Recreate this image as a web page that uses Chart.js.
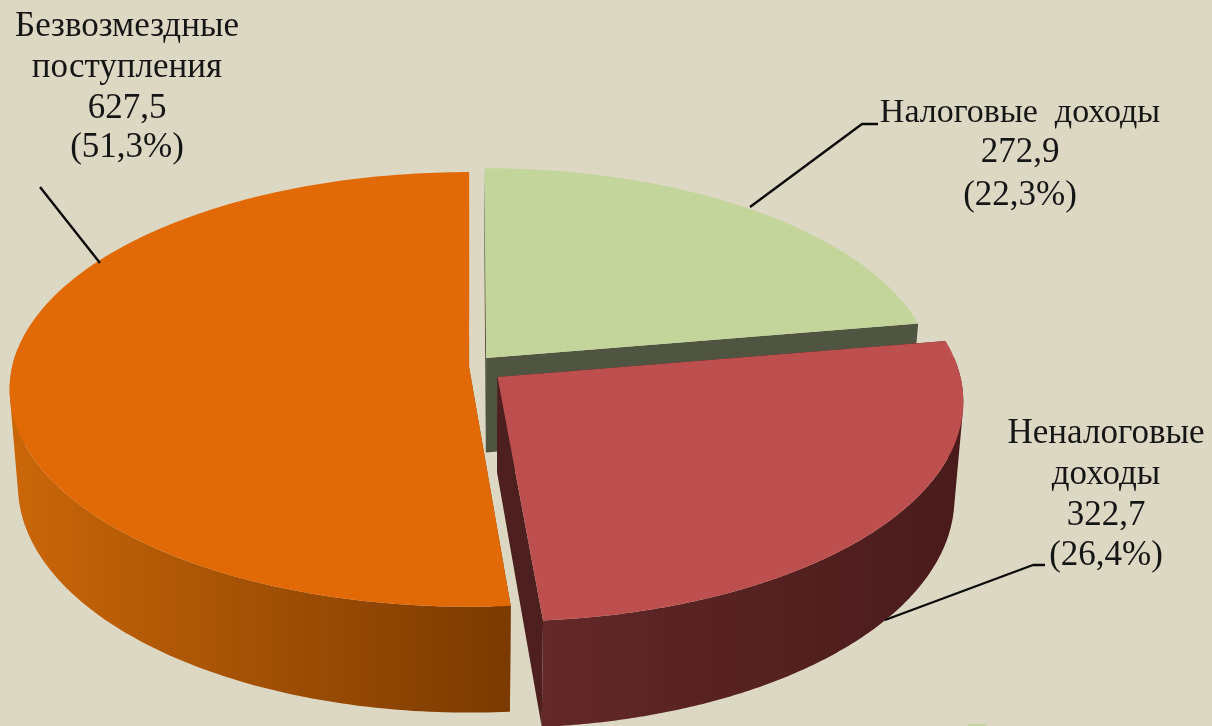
<!DOCTYPE html>
<html lang="ru"><head><meta charset="utf-8">
<style>html,body{margin:0;padding:0;background:#ddd8c3}canvas{display:block}</style>
<script src="https://cdn.jsdelivr.net/npm/chart.js@4"></script></head>
<body><canvas id="c" width="1212" height="726"></canvas>
<script>
const categories = ['Налоговые доходы', 'Неналоговые доходы', 'Безвозмездные поступления'];
const values = [272.9, 322.7, 627.5];
const percents = ['22,3%', '26,4%', '51,3%'];
const valueLabels = ['272,9', '322,7', '627,5'];

const topColors = ['#c3d59b', '#be4f4f', '#e26a06'];
const wallColors = ['#4f5540', '#4e1f1f', '#7a3a00'];
const rimStops = [['#5c6347', '#4f5540'], ['#632828', '#4a1b1b'], ['#c96609', '#7a3a00']];
const explode = [0.055, 0.076, 0.002];
const sliceScale = [0.98, 1.008, 1];

const P = {cx: 470, cy: 367, rx: 457, ry: 215, p: 0.103, depth: 95, shrink: 0.982};
const proj = (u, v, down) => {
  const w = 1 - P.p * v;
  return [P.cx + P.rx * u * (down ? P.shrink : 1) / w, P.cy + (P.ry * v + (down ? P.depth : 0)) / w];
};
const pie3d = {
  id: 'pie3d',
  beforeDatasetsDraw(chart) {
    const ctx = chart.ctx, arcs = chart.getDatasetMeta(0).data;
    [0, 2, 1].forEach(i => {
      const a = arcs[i], R = a.outerRadius, mid = (a.startAngle + a.endAngle) / 2;
      const e = a.options.offset / R, ox = Math.cos(mid) * e, oy = Math.sin(mid) * e;
      const N = 200, rim = [], angles = [], s = sliceScale[i];
      for (let k = 0; k <= N; k++) {
        const t = a.startAngle + (a.endAngle - a.startAngle) * k / N;
        angles.push(t);
        rim.push([ox + s * Math.cos(t), oy + s * Math.sin(t)]);
      }
      const poly = (pts, fill) => {
        ctx.beginPath(); pts.forEach((q, n) => n ? ctx.lineTo(q[0], q[1]) : ctx.moveTo(q[0], q[1]));
        ctx.closePath(); ctx.fillStyle = fill; ctx.fill();
      };
      const apex = proj(ox, oy), apexB = proj(ox, oy, true);
      const first = rim[0], last = rim[N];
      poly([apex, proj(first[0], first[1]), proj(first[0], first[1], true), apexB], wallColors[i]);
      poly([apex, proj(last[0], last[1]), proj(last[0], last[1], true), apexB], wallColors[i]);
      const topPts = rim.map(q => proj(q[0], q[1]));
      const botPts = rim.map(q => proj(q[0], q[1], true));
      const xs = botPts.map(q => q[0]), lo = Math.min(...xs), hi = Math.max(...xs);
      const g = ctx.createLinearGradient(lo, 0, hi, 0);
      g.addColorStop(0, rimStops[i][0]); g.addColorStop(1, rimStops[i][1]);
      ctx.beginPath();
      for (let k = 0; k < N; k++) {
        if (Math.sin(angles[k]) < -0.1 || Math.sin(angles[k + 1]) < -0.1) continue;
        const quad = [topPts[k], topPts[k + 1], botPts[k + 1], botPts[k]];
        let area = 0;
        quad.forEach((q, n) => { const r = quad[(n + 1) % 4]; area += q[0] * r[1] - r[0] * q[1]; });
        if (area < 0) quad.reverse();
        quad.forEach((q, n) => n ? ctx.lineTo(q[0], q[1]) : ctx.moveTo(q[0], q[1]));
        ctx.closePath();
      }
      ctx.fillStyle = g; ctx.fill();
      poly([apex].concat(topPts), a.options.backgroundColor);
    });
    return false;
  },
  afterDraw(chart) {
    const ctx = chart.ctx;
    ctx.strokeStyle = '#0a0a0a'; ctx.lineWidth = 2.4; ctx.lineJoin = 'round';
    [[[40,187],[100,263]], [[750,207],[862,124],[878,124]], [[885,620],[1033,565],[1045,565]]].forEach(l => {
      ctx.beginPath(); l.forEach((q, n) => n ? ctx.lineTo(q[0], q[1]) : ctx.moveTo(q[0], q[1])); ctx.stroke();
    });
    ctx.fillStyle = '#c3d59b'; ctx.fillRect(968, 724, 18, 2);
    ctx.fillStyle = '#151515';
    ctx.textAlign = 'center'; ctx.textBaseline = 'alphabetic';
    const blocks = [
      {x: 1020, ys: [122, 162, 205], lines: ['Налоговые  доходы', valueLabels[0], '(' + percents[0] + ')']},
      {x: 1106, ys: [443, 484, 525, 565], lines: ['Неналоговые', 'доходы', valueLabels[1], '(' + percents[1] + ')']},
      {x: 127, ys: [36, 77, 118, 157], lines: ['Безвозмездные', 'поступления', valueLabels[2], '(' + percents[2] + ')']}
    ];
    blocks.forEach(b => b.lines.forEach((s, n) => {
      ctx.font = (s.includes('  ') ? '34px' : '35px') + ' "Liberation Serif"';
      ctx.fillText(s, b.x, b.ys[n]);
    }));
  }
};
new Chart(document.getElementById('c'), {
  type: 'pie',
  data: {labels: categories, datasets: [{data: values, backgroundColor: topColors, borderWidth: 0,
    offset: ctx => explode[ctx.dataIndex] * 300}]},
  options: {responsive: false, animation: false, radius: 300,
    plugins: {legend: {display: false}, tooltip: {enabled: false}}},
  plugins: [pie3d]
});
</script></body></html>
